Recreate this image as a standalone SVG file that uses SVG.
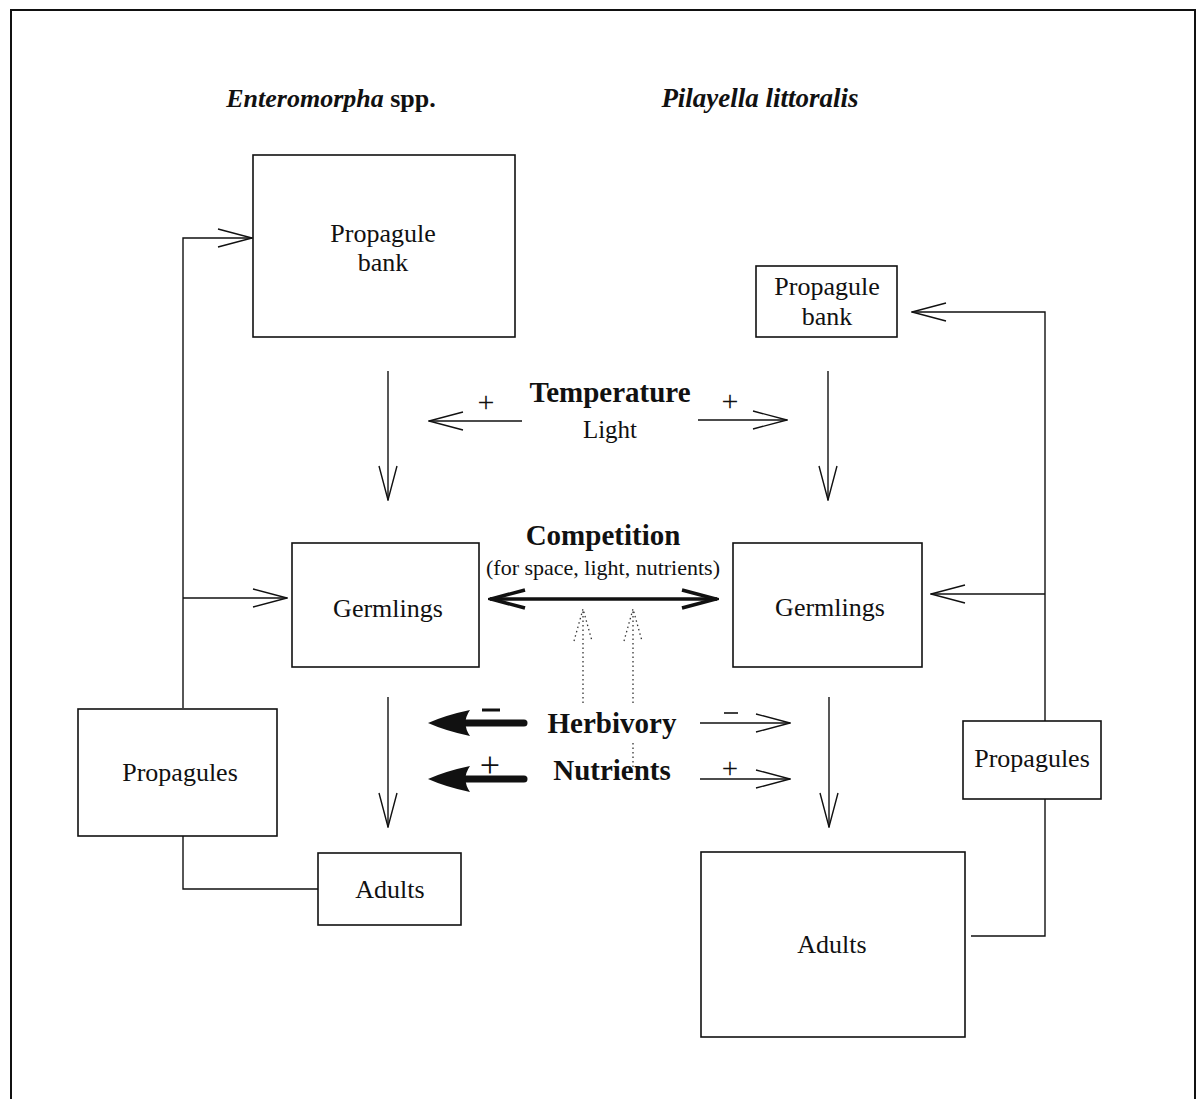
<svg xmlns="http://www.w3.org/2000/svg" width="1200" height="1099" viewBox="0 0 1200 1099">
<defs>
<style>
.box{fill:#fff;stroke:#111;stroke-width:1.6}
.ln{fill:none;stroke:#111;stroke-width:1.4}
.t{font-family:"Liberation Serif","Times New Roman",serif;fill:#111;text-anchor:middle}
.lbl{font-size:26px}
.big{font-size:29px;font-weight:bold}
.dot{fill:none;stroke:#333;stroke-width:1.3;stroke-dasharray:1.5 3}
.shaft{fill:none;stroke:#111;stroke-width:7;stroke-linecap:round}
</style>
<marker id="open" markerUnits="userSpaceOnUse" viewBox="0 0 36 20" refX="35" refY="10" markerWidth="36" markerHeight="20" orient="auto-start-reverse">
<path d="M1,1 L35,10 L1,19" fill="none" stroke="#111" stroke-width="1.4"/>
</marker>
<marker id="openBold" markerUnits="userSpaceOnUse" viewBox="0 0 40 24" refX="38" refY="12" markerWidth="40" markerHeight="24" orient="auto-start-reverse">
<path d="M3,3 L37,12 L3,21" fill="none" stroke="#111" stroke-width="3.6"/>
</marker>
<marker id="dotHead" markerUnits="userSpaceOnUse" viewBox="0 0 34 20" refX="33" refY="10" markerWidth="34" markerHeight="20" orient="auto">
<path d="M1,1 L33,10 L1,19" fill="none" stroke="#333" stroke-width="1.3" stroke-dasharray="1.5 3"/>
</marker>
<path id="thickHead" d="M0,0 Q18,-8 42,-13 Q33,0 42,13 Q18,8 0,0 Z" fill="#111"/>
</defs>
<rect width="1200" height="1099" fill="#fff"/>
<path d="M11,1099 L11,10 L1195,10 L1195,1099" fill="none" stroke="#111" stroke-width="2"/>

<g id="titles">
<text class="t" x="331" y="107" font-size="26" font-weight="bold"><tspan font-style="italic">Enteromorpha</tspan> spp.</text>
<text class="t" x="760" y="107" font-size="27" font-weight="bold" font-style="italic">Pilayella littoralis</text>
</g>

<g id="connectors">
<path class="ln" d="M183,708 L183,238 L252,238" marker-end="url(#open)"/>
<path class="ln" d="M183,598 L287,598" marker-end="url(#open)"/>
<path class="ln" d="M183,836 L183,889 L318,889"/>
<path class="ln" d="M971,936 L1045,936 L1045,799"/>
<path class="ln" d="M1045,721 L1045,312 L912,312" marker-end="url(#open)"/>
<path class="ln" d="M1045,594 L931,594" marker-end="url(#open)"/>
<path class="ln" d="M388,371 L388,500" marker-end="url(#open)"/>
<path class="ln" d="M828,371 L828,500" marker-end="url(#open)"/>
<path class="ln" d="M388,697 L388,827" marker-end="url(#open)"/>
<path class="ln" d="M829,697 L829,827" marker-end="url(#open)"/>
<path class="ln" d="M522,421 L429,421" marker-end="url(#open)"/>
<path class="ln" d="M698,420 L787,420" marker-end="url(#open)"/>
<path d="M490,599 L717,599" fill="none" stroke="#111" stroke-width="3.4" marker-start="url(#openBold)" marker-end="url(#openBold)"/>
<path class="dot" d="M583,703 L583,609" marker-end="url(#dotHead)"/>
<path class="dot" d="M633,703 L633,609" marker-end="url(#dotHead)"/>
<path class="dot" d="M633,767 L633,742"/>
<line class="shaft" x1="462" y1="723" x2="524" y2="723"/>
<use href="#thickHead" x="428" y="723"/>
<line class="shaft" x1="462" y1="779" x2="524" y2="779"/>
<use href="#thickHead" x="428" y="779"/>
<path class="ln" d="M700,723 L790,723" marker-end="url(#open)"/>
<path class="ln" d="M700,779 L790,779" marker-end="url(#open)"/>
</g>

<g id="signs">
<text class="t" x="486" y="412" font-size="30">+</text>
<text class="t" x="730" y="411" font-size="30">+</text>
<line x1="482" y1="710" x2="500" y2="710" stroke="#111" stroke-width="3"/>
<line x1="724" y1="713" x2="738" y2="713" stroke="#111" stroke-width="1.6"/>
<text class="t" x="490" y="777" font-size="36">+</text>
<text class="t" x="730" y="778" font-size="29">+</text>
</g>

<g id="temperature">
<text class="t big" x="610" y="402">Temperature</text>
<text class="t" x="610" y="438" font-size="25">Light</text>
</g>
<g id="competition">
<text class="t big" x="603" y="545">Competition</text>
<text class="t" x="603" y="575" font-size="22">(for space, light, nutrients)</text>
</g>
<g id="herbivory">
<text class="t big" x="612" y="733">Herbivory</text>
</g>
<g id="nutrients">
<text class="t big" x="612" y="780" font-size="30">Nutrients</text>
</g>

<g id="ent-bank">
<rect class="box" x="253" y="155" width="262" height="182"/>
<text class="t lbl" x="383" y="242">Propagule</text>
<text class="t lbl" x="383" y="271">bank</text>
</g>
<g id="ent-germlings">
<rect class="box" x="292" y="543" width="187" height="124"/>
<text class="t lbl" x="388" y="617">Germlings</text>
</g>
<g id="ent-propagules">
<rect class="box" x="78" y="709" width="199" height="127"/>
<text class="t lbl" x="180" y="781">Propagules</text>
</g>
<g id="ent-adults">
<rect class="box" x="318" y="853" width="143" height="72"/>
<text class="t lbl" x="390" y="898">Adults</text>
</g>

<g id="pil-bank">
<rect class="box" x="756" y="266" width="141" height="71"/>
<text class="t lbl" x="827" y="295">Propagule</text>
<text class="t lbl" x="827" y="325">bank</text>
</g>
<g id="pil-germlings">
<rect class="box" x="733" y="543" width="189" height="124"/>
<text class="t lbl" x="830" y="616">Germlings</text>
</g>
<g id="pil-propagules">
<rect class="box" x="963" y="721" width="138" height="78"/>
<text class="t lbl" x="1032" y="767">Propagules</text>
</g>
<g id="pil-adults">
<rect class="box" x="701" y="852" width="264" height="185"/>
<text class="t lbl" x="832" y="953">Adults</text>
</g>
</svg>
